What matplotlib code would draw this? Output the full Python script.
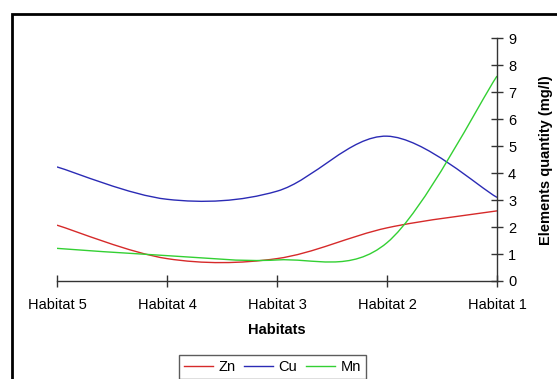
import numpy as np
from matplotlib import pyplot as plt
from matplotlib.path import Path
from matplotlib.patches import PathPatch, Rectangle
from matplotlib.lines import Line2D

plt.rcParams['font.family'] = ['Liberation Sans', 'DejaVu Sans']

habitats = ["Habitat 5", "Habitat 4", "Habitat 3", "Habitat 2", "Habitat 1"]
zn = [2.07, 0.83, 0.83, 1.97, 2.60]
cu = [4.23, 3.03, 3.33, 5.37, 3.10]
mn = [1.21, 0.94, 0.78, 1.42, 7.60]

series = [("Zn", zn, "#d62a2a"), ("Cu", cu, "#2b2bb5"), ("Mn", mn, "#33d033")]


def smooth_path(xs, ys):
    """ Bezier path through the points, like spreadsheet smoothed lines """
    pts = np.column_stack([xs, ys]).astype(float)
    padded = np.vstack([pts[0], pts, pts[-1]])
    verts = [pts[0]]
    codes = [Path.MOVETO]
    for i in range(len(pts) - 1):
        p0, p1, p2, p3 = padded[i], padded[i + 1], padded[i + 2], padded[i + 3]
        c1 = p1 + (p2 - p0) / 6.0
        c2 = p2 - (p3 - p1) / 6.0
        verts += [c1, c2, p2]
        codes += [Path.CURVE4] * 3
    return Path(verts, codes)


fig = plt.figure(figsize=(5.57, 3.79), dpi=100)
ax = fig.add_axes([0.1023, 0.2586, 0.7900, 0.6404])

x = np.arange(len(habitats))
handles = []
for name, vals, color in series:
    ax.add_patch(PathPatch(smooth_path(x, vals), facecolor="none", edgecolor=color, lw=1.0))
    handles.append(Line2D([], [], color=color, lw=1.0, label=name))

ax.set_xlim(0, len(habitats) - 1)
ax.set_ylim(0, 9)
ax.set_xticks(x)
ax.set_xticklabels(habitats, fontsize=10.5)
ax.set_yticks(range(10))
ax.set_yticklabels([str(v) for v in range(10)], fontsize=10.5)

for s in ["top", "left"]:
    ax.spines[s].set_visible(False)
for s in ["bottom", "right"]:
    ax.spines[s].set_color("#333333")
    ax.spines[s].set_linewidth(1.0)

ax.yaxis.tick_right()
ax.yaxis.set_label_position("right")
ax.tick_params(axis="x", direction="inout", length=8, width=1, color="#333333", pad=8)
ax.tick_params(axis="y", direction="inout", length=8, width=1, color="#333333", pad=4)

ax.set_xlabel("Habitats", fontsize=10.5, fontweight="bold", labelpad=8)
ax.set_ylabel("Elements quantity (mg/l)", fontsize=10.5, fontweight="bold", labelpad=16)

fig.legend(handles=handles, loc="upper center", bbox_to_anchor=(0.489, 0.063), ncol=3,
           fontsize=10.5, frameon=True, fancybox=False, edgecolor="#333333",
           handlelength=2.0, handletextpad=0.35, columnspacing=0.6, borderpad=0.35,
           borderaxespad=0)

# outer chart border (runs off the right and bottom edges)
fig.patches.append(Rectangle((12 / 557, -0.1), 1.2, 1 - 14 / 379 + 0.1, transform=fig.transFigure,
                             fill=False, edgecolor="black", lw=2, clip_on=False))

fig.savefig("out.png", dpi=100)
